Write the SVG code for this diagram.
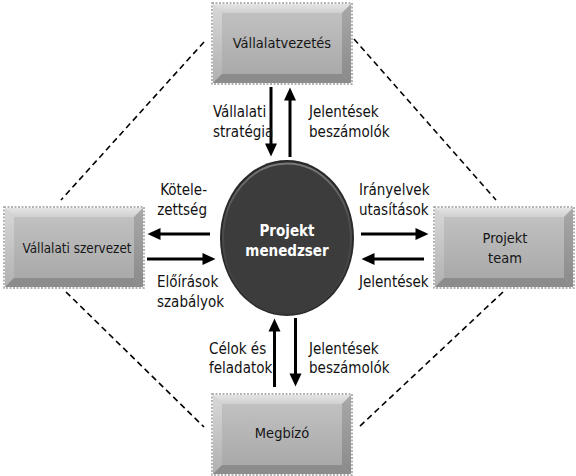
<svg xmlns="http://www.w3.org/2000/svg" width="576" height="476" viewBox="0 0 576 476">
  <defs>
    <linearGradient id="face" x1="0" y1="0" x2="0" y2="1">
      <stop offset="0" stop-color="#c4c4c4"/>
      <stop offset="1" stop-color="#a6a6a6"/>
    </linearGradient>
    <linearGradient id="topb" x1="0" y1="0" x2="0" y2="1">
      <stop offset="0" stop-color="#e4e4e4"/>
      <stop offset="1" stop-color="#d0d0d0"/>
    </linearGradient>
    <linearGradient id="leftb" x1="0" y1="0" x2="0" y2="1">
      <stop offset="0" stop-color="#d8d8d8"/>
      <stop offset="1" stop-color="#b0b0b0"/>
    </linearGradient>
    <linearGradient id="rightb" x1="0" y1="0" x2="0" y2="1">
      <stop offset="0" stop-color="#a8a8a8"/>
      <stop offset="1" stop-color="#8a8a8a"/>
    </linearGradient>
    <linearGradient id="rim" x1="0" y1="0" x2="0" y2="1">
      <stop offset="0" stop-color="#7a7a7a"/>
      <stop offset="0.35" stop-color="#505050"/>
      <stop offset="1" stop-color="#3a3a3a"/>
    </linearGradient>
    <g id="box">
      <rect x="-1" y="-1" width="140" height="81" fill="none" stroke="#9c9c9c" stroke-width="1.5" stroke-dasharray="2 1.5"/>
      <rect x="0" y="0" width="138" height="79" fill="url(#face)"/>
      <polygon points="0,0 138,0 129,9 9,9" fill="url(#topb)"/>
      <polygon points="0,0 9,9 9,70 0,79" fill="url(#leftb)"/>
      <polygon points="138,0 138,79 129,70 129,9" fill="url(#rightb)"/>
      <polygon points="0,79 9,70 129,70 138,79" fill="#8c8c8c"/>
    </g>
    <marker id="ah" markerUnits="userSpaceOnUse" markerWidth="14" markerHeight="12" refX="0.5" refY="6" orient="auto" overflow="visible">
      <path d="M0,0 L13,6 L0,12 Z" fill="#000"/>
    </marker>
  </defs>
  <style>
    .lbl { font-family: "DejaVu Sans Condensed", "DejaVu Sans", "Liberation Sans", sans-serif; font-stretch: condensed; font-size: 15px; fill: #111111; }
    .node { font-family: "DejaVu Sans Condensed", "DejaVu Sans", "Liberation Sans", sans-serif; font-stretch: condensed; font-size: 14.5px; fill: #161616; text-anchor: middle; }
    .pm { font-family: "DejaVu Sans Condensed", "DejaVu Sans", "Liberation Sans", sans-serif; font-stretch: condensed; font-size: 15px; font-weight: bold; fill: #ffffff; text-anchor: middle; }
    .arr { stroke: #000; stroke-width: 3; fill: none; marker-end: url(#ah); }
    .dash { stroke: #000; stroke-width: 1.6; stroke-dasharray: 6 4; fill: none; }
  </style>
  <rect width="576" height="476" fill="#ffffff"/>

  <g id="connectors">
    <line class="dash" x1="204" y1="42" x2="61" y2="200"/>
    <line class="dash" x1="354" y1="39" x2="496" y2="200"/>
    <line class="dash" x1="66" y1="292" x2="204" y2="427"/>
    <line class="dash" x1="503" y1="292" x2="359" y2="427"/>

    <line class="arr" x1="271" y1="87" x2="271" y2="144"/>
    <line class="arr" x1="290" y1="157" x2="290" y2="100"/>
    <line class="arr" x1="210" y1="234" x2="160" y2="234"/>
    <line class="arr" x1="147" y1="259" x2="203" y2="259"/>
    <line class="arr" x1="361" y1="234" x2="416" y2="234"/>
    <line class="arr" x1="424" y1="259" x2="374" y2="259"/>
    <line class="arr" x1="274.5" y1="387" x2="274.5" y2="331"/>
    <line class="arr" x1="295.5" y1="318" x2="295.5" y2="374"/>

    <text class="lbl" x="213" y="117">Vállalati</text>
    <text class="lbl" x="213" y="137">stratégia</text>
    <text class="lbl" x="309" y="117">Jelentések</text>
    <text class="lbl" x="309" y="137">beszámolók</text>
    <text class="lbl" x="207" y="195" text-anchor="end">Kötele-</text>
    <text class="lbl" x="207" y="215" text-anchor="end">zettség</text>
    <text class="lbl" x="157" y="287">Előírások</text>
    <text class="lbl" x="157" y="307">szabályok</text>
    <text class="lbl" x="359" y="195">Irányelvek</text>
    <text class="lbl" x="359" y="215">utasítások</text>
    <text class="lbl" x="359" y="287">Jelentések</text>
    <text class="lbl" x="209" y="354">Célok és</text>
    <text class="lbl" x="209" y="373">feladatok</text>
    <text class="lbl" x="309" y="354">Jelentések</text>
    <text class="lbl" x="309" y="373">beszámolók</text>
  </g>

  <g id="vallalatvezetes">
    <use href="#box" x="213" y="4"/>
    <text class="node" x="282" y="48">Vállalatvezetés</text>
  </g>
  <g id="vallalati-szervezet">
    <use href="#box" x="5" y="208"/>
    <text class="node" x="77" y="253" textLength="109" lengthAdjust="spacingAndGlyphs">Vállalati szervezet</text>
  </g>
  <g id="projekt-team">
    <use href="#box" x="435" y="208"/>
    <text class="node" x="505" y="243">Projekt</text>
    <text class="node" x="505" y="263">team</text>
  </g>
  <g id="megbizo">
    <use href="#box" x="213" y="395"/>
    <text class="node" x="282" y="438">Megbízó</text>
  </g>
  <g id="projekt-menedzser">
    <ellipse cx="287" cy="238" rx="67" ry="78" fill="#2a2a2a"/>
    <ellipse cx="287" cy="238.5" rx="64" ry="75" fill="#3c3c3c" stroke="url(#rim)" stroke-width="2"/>
    <text class="pm" x="287" y="236">Projekt</text>
    <text class="pm" x="287" y="256">menedzser</text>
  </g>
</svg>
